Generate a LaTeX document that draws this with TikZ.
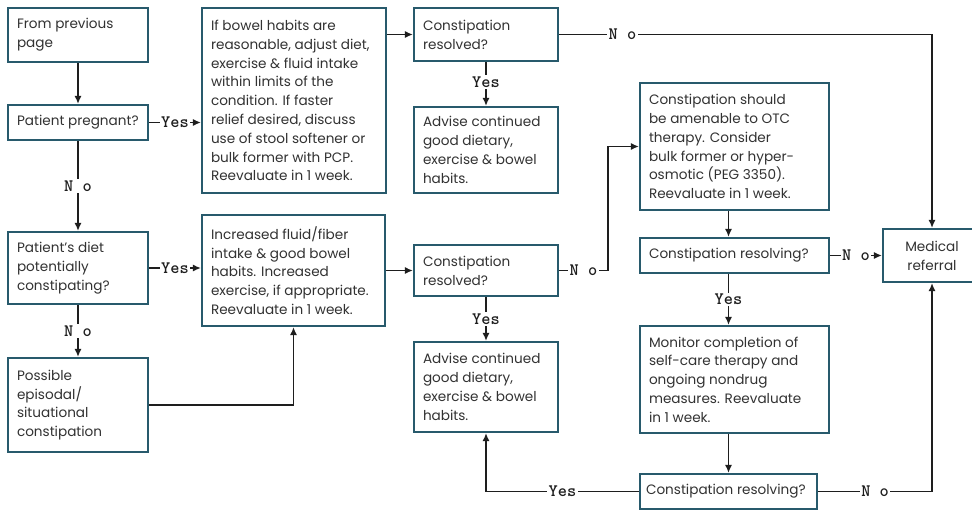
\documentclass[tikz,border=0pt]{standalone}
\usepackage{fontspec}
\setmainfont{Poppins}
\usetikzlibrary{arrows.meta,calc}
\definecolor{boxline}{RGB}{40,90,108}
\definecolor{ink}{RGB}{50,50,50}
\definecolor{wire}{RGB}{30,30,30}

\tikzset{
  box/.style={draw=boxline, line width=2.1pt, rectangle, inner xsep=9pt, inner ysep=3pt,
    font=\fontsize{13.6}{18.8}\selectfont, text=ink, align=flush left},
  flow/.style={draw=wire, line width=1.5pt, -{Latex[length=8pt,width=7pt]}},
  lbl/.style={fill=white, inner sep=1.5pt, text=wire,
    font=\ttfamily\bfseries\fontsize{17.5}{17.5}\selectfont},
}

\begin{document}
\begin{tikzpicture}[x=1pt,y=-1pt]
\useasboundingbox[fill=white] (0,0) rectangle (972,511);

% left column
\node[box, minimum width=140pt, minimum height=54pt, text width=122pt] (prev) at (78,35) {From previous\\page};
\node[box, minimum width=140pt, minimum height=35pt, text width=122pt] (preg) at (78,122.5) {Patient pregnant?};
\node[box, minimum width=140pt, minimum height=72pt, text width=122pt] (diet) at (78,268) {Patient’s diet\\potentially\\constipating?};
\node[box, minimum width=140pt, minimum height=94pt, text width=122pt] (poss) at (78,405) {Possible\\episodal/\\situational\\constipation};

% second column
\node[box, minimum width=184pt, minimum height=185pt, text width=166pt] (ifbowel) at (294,100.5) {If bowel habits are\\reasonable, adjust diet,\\exercise \& fluid intake\\within limits of the\\condition. If faster\\relief desired, discuss\\use of stool softener or\\bulk former with PCP.\\Reevaluate in 1 week.};
\node[box, minimum width=183pt, minimum height=111pt, text width=165pt] (incr) at (293.5,270.5) {Increased fluid/fiber\\intake \& good bowel\\habits. Increased\\exercise, if appropriate.\\Reevaluate in 1 week.};

% third column
\node[box, minimum width=144pt, minimum height=53pt, text width=126pt] (res1) at (486,34.5) {Constipation\\resolved?};
\node[box, minimum width=144pt, minimum height=86pt, text width=126pt] (adv1) at (486,150) {Advise continued\\good dietary,\\exercise \& bowel\\habits.};
\node[box, minimum width=144pt, minimum height=51pt, text width=126pt] (res2) at (486,270.5) {Constipation\\resolved?};
\node[box, minimum width=144pt, minimum height=90pt, text width=126pt] (adv2) at (486,387) {Advise continued\\good dietary,\\exercise \& bowel\\habits.};

% fourth column
\node[box, minimum width=189pt, minimum height=127pt, text width=171pt] (otc) at (734.5,146.5) {Constipation should\\be amenable to OTC\\therapy. Consider\\bulk former or hyper-\\osmotic (PEG 3350).\\Reevaluate in 1 week.};
\node[box, minimum width=189pt, minimum height=35pt, text width=171pt] (rsv1) at (734.5,255.5) {Constipation resolving?};
\node[box, minimum width=189pt, minimum height=107pt, text width=171pt] (mon) at (734.5,379.5) {Monitor completion of\\self-care therapy and\\ongoing nondrug\\measures. Reevaluate\\in 1 week.};
\node[box, inner xsep=6pt, minimum width=177pt, minimum height=35pt, text width=165pt] (rsv2) at (728.5,491.5) {Constipation resolving?};

% referral
\node[box, minimum width=98pt, minimum height=53pt, text width=80pt, align=center] (ref) at (932,255.5) {Medical\\referral};

% connectors
\draw[flow] (prev) -- (preg);
\draw[flow] (preg) -- node[lbl]{Yes} (ifbowel.west |- preg);
\draw[flow] (preg) -- node[lbl]{N o} (diet);
\draw[flow] (ifbowel.east |- res1) -- (res1);
\draw[flow] (res1) -- node[lbl, pos=0.45]{Yes} (adv1);
\draw[flow] (res1.east) -- node[lbl, pos=0.17]{N o} (ref.north |- res1.east) -- (ref.north);

\draw[flow] (diet) -- node[lbl]{Yes} (incr.west |- diet);
\draw[flow] (diet) -- node[lbl]{N o} (poss);
\draw[flow] (poss.east) -| (incr.south);
\draw[flow] (incr) -- (res2);
\draw[flow] (res2) -- node[lbl]{Yes} (adv2);
\coordinate (bend) at (608,270.5);
\draw[flow] (res2.east) -- node[lbl]{N o} (bend) |- (otc.west);

\draw[flow] (otc.south -| rsv2.north) -- (rsv1.north -| rsv2.north);
\draw[flow] (rsv1) -- node[lbl]{N o} (ref.west |- rsv1);
\draw[flow] (rsv1.south -| rsv2.north) -- node[lbl]{Yes} (mon.north -| rsv2.north);
\draw[flow] (mon.south -| rsv2.north) -- (rsv2.north);
\draw[flow] (rsv2.west) -- node[lbl]{Yes} (adv2.south |- rsv2.west) -- (adv2.south);
\draw[flow] (rsv2.east) -- node[lbl]{N o} (ref.south |- rsv2.east) -- (ref.south);
\end{tikzpicture}
\end{document}
